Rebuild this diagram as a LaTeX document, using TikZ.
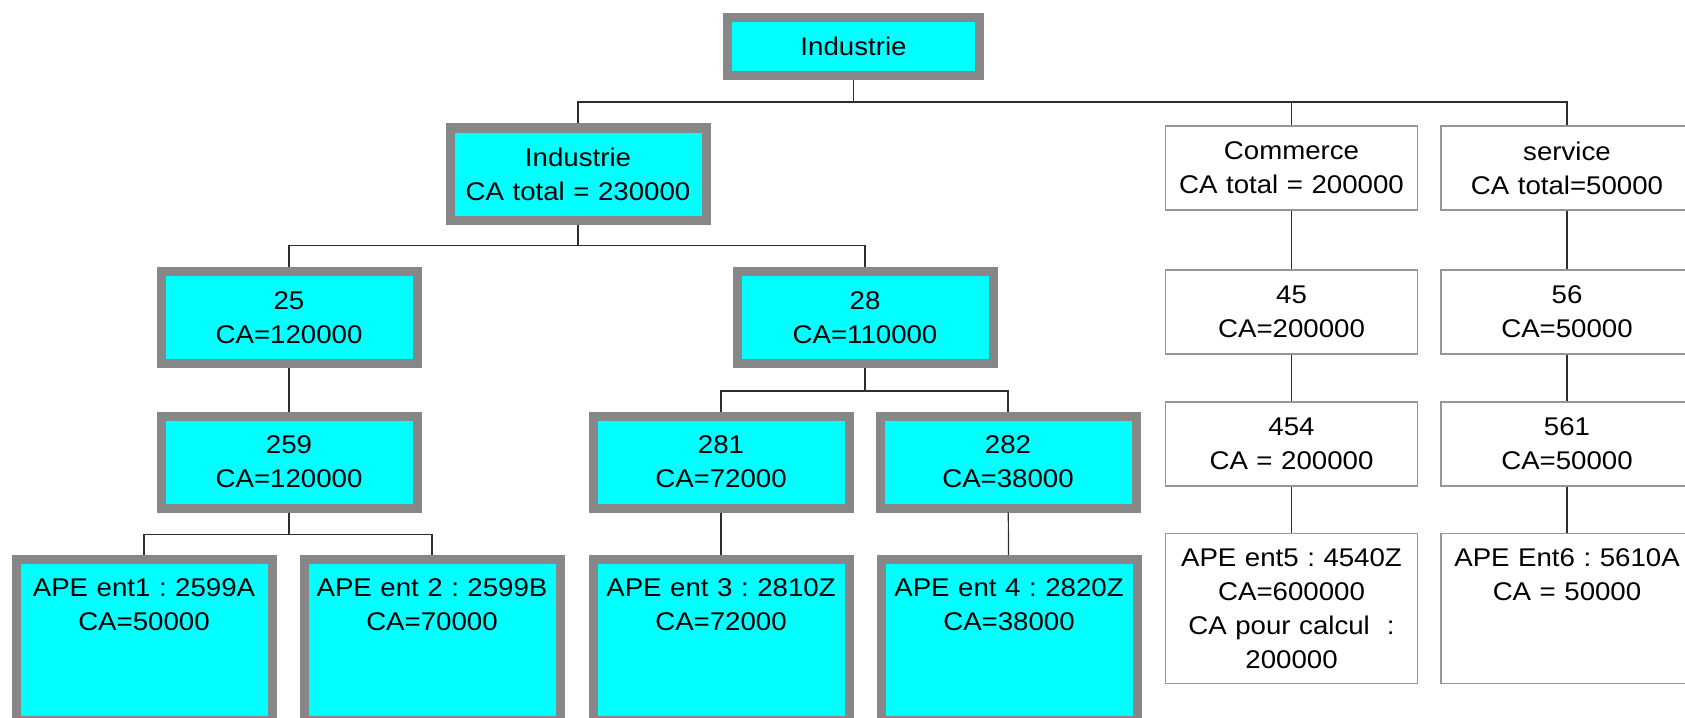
\documentclass[tikz,border=0pt]{standalone}
\usepackage{fontspec}
\setmainfont{Liberation Sans}[FakeStretch=1.08]
\usepackage{xcolor}
\usepackage{tikz}
\usetikzlibrary{positioning}
\frenchspacing
\definecolor{boxgray}{RGB}{135,135,135}
\definecolor{boxcyan}{RGB}{0,255,255}
\definecolor{thingray}{RGB}{150,150,150}
\definecolor{linkgray}{RGB}{45,45,45}
\tikzset{
  codebox/.style={
    rectangle, draw=boxgray, fill=boxcyan, line width=4.5pt,
    text width=124pt, align=center,
    minimum height=#1, font=\fontsize{12.8}{17}\selectfont,
    inner xsep=2pt, inner ysep=3pt},
  codebox/.default=46pt,
  plainbox/.style={
    rectangle, draw=thingray, fill=white, line width=0.6pt,
    text width=122pt, align=center,
    minimum height=#1, font=\fontsize{12.8}{17}\selectfont,
    inner xsep=2pt, inner ysep=3pt},
  plainbox/.default=42pt,
  topfirst/.style={anchor=north, text height=9pt, text depth=#1},
  link/.style={draw=linkgray, line width=0.6pt},
}

\begin{document}
\begin{tikzpicture}[x=0.5pt, y=-0.5pt]
  \useasboundingbox (0,0) rectangle (1685,717);

  % top and sectors
  \node[codebox=29pt, text width=122pt] (top) at (853.5,46.5) {Industrie};
  \node[codebox] (ind) at (578,174) {Industrie\\CA total = 230000};
  \node[plainbox] (com) at (1291.5,168) {Commerce\\CA total = 200000};
  \node[plainbox] (ser) at (1567,168) {service\\CA total=50000};

  % divisions and groups
  \node[codebox] (d25) at (289,317.5) {25\\CA=120000};
  \node[codebox] (d28) at (865,317.5) {28\\CA=110000};
  \node[plainbox] (d45) at (1291.5,312) {45\\CA=200000};
  \node[plainbox] (d56) at (1567,312) {56\\CA=50000};
  \node[codebox] (g259) at (289,462) {259\\CA=120000};
  \node[codebox] (g281) at (721,462) {281\\CA=72000};
  \node[codebox, right=11pt of g281] (g282) {282\\CA=38000};
  \node[plainbox] (g454) at (1291.5,444) {454\\CA = 200000};
  \node[plainbox] (g561) at (1567,444) {561\\CA=50000};

  % firms
  \node[codebox, topfirst=52.5pt, inner ysep=9.5pt] (ent1) at (144,555) {APE ent1 : 2599A\\CA=50000};
  \node[codebox, topfirst=52.5pt, inner ysep=9.5pt] (ent2) at (432,555) {APE ent 2 : 2599B\\CA=70000};
  \node[codebox, topfirst=52.5pt, inner ysep=9.5pt] (ent3) at (721,555) {APE ent 3 : 2810Z\\CA=72000};
  \node[codebox, topfirst=52.5pt, inner ysep=9.5pt] (ent4) at (1009,555) {APE ent 4 : 2820Z\\CA=38000};
  \node[plainbox, topfirst=50.9pt, inner ysep=7.5pt] (ent5) at (1291.5,533) {APE ent5 : 4540Z\\CA=600000\\CA pour calcul~~:\\200000};
  \node[plainbox, topfirst=50.9pt, inner ysep=7.5pt] (ent6) at (1567,533) {APE Ent6 : 5610A\\CA = 50000};

  \draw[link] (top.south) -- ++(0,22) -| (ind.north);
  \draw[link] (top.south) -- ++(0,22) -| (com.north);
  \draw[link] (top.south) -- ++(0,22) -| (ser.north);
  \draw[link] (ind.south) -- ++(0,21) -| (d25.north);
  \draw[link] (ind.south) -- ++(0,21) -| (d28.north);
  \draw[link] (d28.south) -- ++(0,23) -| (g281.north);
  \draw[link] (d28.south) -- ++(0,23) -| (g282.north);
  \draw[link] (g259.south) -- ++(0,22) -| (ent1.north);
  \draw[link] (g259.south) -- ++(0,22) -| (ent2.north);
  \draw[link] (d25) -- (g259);
  \draw[link] (g281) -- (ent3);
  \draw[link] (g282) -- (ent4);
  \draw[link] (com) -- (d45);
  \draw[link] (d45) -- (g454);
  \draw[link] (g454) -- (ent5);
  \draw[link] (ser) -- (d56);
  \draw[link] (d56) -- (g561);
  \draw[link] (g561) -- (ent6);
\end{tikzpicture}
\end{document}
